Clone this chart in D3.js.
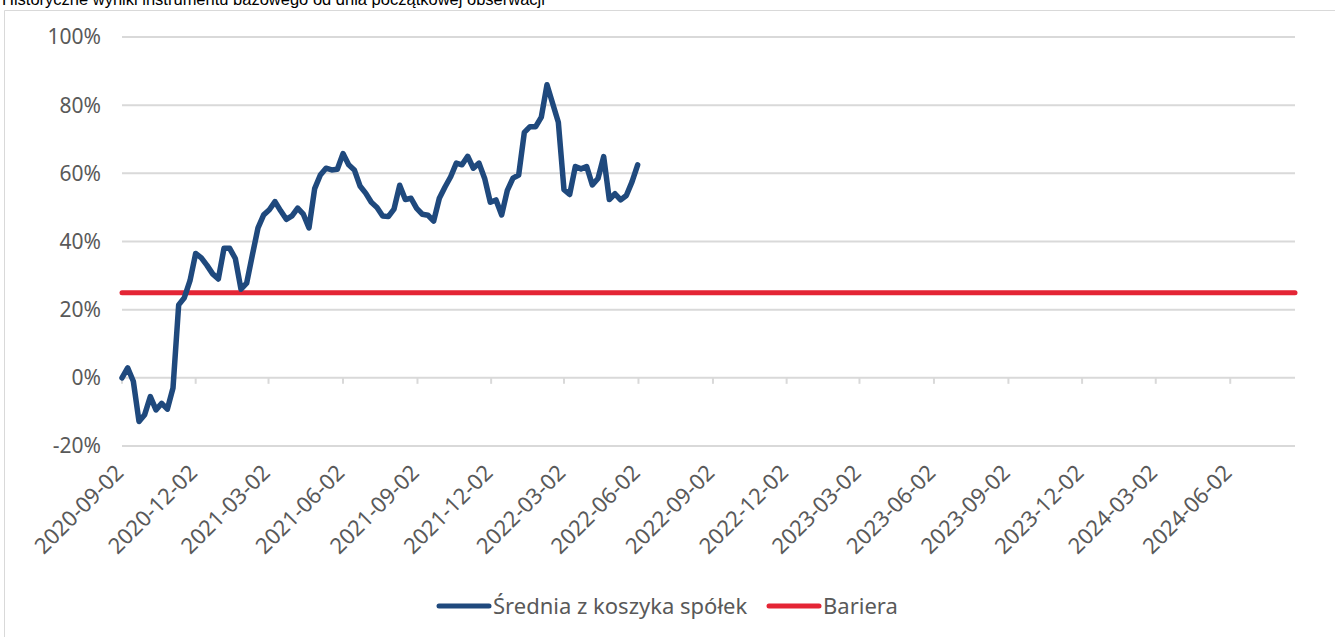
<!DOCTYPE html>
<html>
<head>
<meta charset="utf-8">
<script src="https://cdn.jsdelivr.net/npm/d3@7"></script>
<style>
  body { margin: 0; background: #fff; overflow: hidden; }
  svg { display: block; }
</style>
</head>
<body>
<div id="chart"></div>
<script>
// weekly observations of the basket average (in %)
const dates = [
  "2020-09-02","2020-09-09","2020-09-16","2020-09-23","2020-09-30","2020-10-07","2020-10-14","2020-10-21","2020-10-28",
  "2020-11-04","2020-11-11","2020-11-18","2020-11-25","2020-12-02","2020-12-09","2020-12-16","2020-12-23","2020-12-30",
  "2021-01-06","2021-01-13","2021-01-20","2021-01-27","2021-02-03","2021-02-10","2021-02-17","2021-02-24",
  "2021-03-03","2021-03-10","2021-03-17","2021-03-24","2021-03-31","2021-04-07","2021-04-14","2021-04-21","2021-04-28",
  "2021-05-05","2021-05-12","2021-05-19","2021-05-26","2021-06-02","2021-06-09","2021-06-16","2021-06-23","2021-06-30",
  "2021-07-07","2021-07-14","2021-07-21","2021-07-28","2021-08-04","2021-08-11","2021-08-18","2021-08-25",
  "2021-09-01","2021-09-08","2021-09-15","2021-09-22","2021-09-29","2021-10-06","2021-10-13","2021-10-20","2021-10-27",
  "2021-11-03","2021-11-10","2021-11-17","2021-11-24","2021-12-01","2021-12-08","2021-12-15","2021-12-22","2021-12-29",
  "2022-01-05","2022-01-12","2022-01-19","2022-01-26","2022-02-02","2022-02-09","2022-02-16","2022-02-23",
  "2022-03-02","2022-03-09","2022-03-16","2022-03-23","2022-03-30","2022-04-06","2022-04-13","2022-04-20","2022-04-27",
  "2022-05-04","2022-05-11","2022-05-18","2022-05-25","2022-06-01"
];
const basket = [
  0, 2.9, -1, -12.8, -10.8, -5.5, -9.4, -7.5, -9.2,
  -3, 21.4, 23.5, 28.5, 36.5, 35.2, 33, 30.5, 29,
  38, 38, 35, 26, 27.8, 36, 44, 47.8,
  49.3, 51.7, 49, 46.5, 47.5, 49.8, 48, 44, 55.5,
  59.5, 61.5, 61, 61.2, 65.8, 62.5, 61, 56.3, 54.2,
  51.5, 50, 47.5, 47.3, 49.5, 56.5, 52.3, 52.7,
  49.7, 48, 47.7, 46, 52.7, 56, 59, 63, 62.5,
  65, 61.5, 63, 58.5, 51.5, 52.2, 47.8, 55, 58.6,
  59.5, 72, 73.7, 73.7, 76.5, 86, 80.5, 75,
  55.2, 53.8, 62, 61.3, 62, 56.6, 58.5, 64.9, 52.3,
  54, 52.2, 53.5, 57.5, 62.5
];
const barrier = 25;
const xStart = "2020-09-02", xEnd = "2024-08-21";
const tickDates = [
  "2020-09-02","2020-12-02","2021-03-02","2021-06-02","2021-09-02","2021-12-02","2022-03-02","2022-06-02",
  "2022-09-02","2022-12-02","2023-03-02","2023-06-02","2023-09-02","2023-12-02","2024-03-02","2024-06-02"
];
const yTicks = [-20, 0, 20, 40, 60, 80, 100];
const seriesNames = ["Średnia z koszyka spółek", "Bariera"];
const title = "Historyczne wyniki instrumentu bazowego od dnia początkowej obserwacji";

const W = 1335, H = 637;
const blue = "#1f497d", red = "#e42535", grid = "#d9d9d9", txt = "#595959";
const parse = d3.timeParse("%Y-%m-%d");

const svg = d3.select("#chart").append("svg")
  .attr("width", W).attr("height", H);

// outer frame (only top and left edges are inside the window)
svg.append("path")
  .attr("d", "M4.5," + H + "V10.5H" + W)
  .attr("fill", "none").attr("stroke", grid).attr("stroke-width", 1);

// title sits partly above the window, as in the original screenshot
svg.append("text")
  .attr("x", 2).attr("y", 4.5)
  .attr("font-family", "Liberation Sans, Arial, sans-serif")
  .attr("font-size", 16.5).attr("fill", "#000")
  .text(title);

const x = d3.scaleTime()
  .domain([parse(xStart), parse(xEnd)])
  .range([122, 1295]);
const y = d3.scaleLinear()
  .domain([-20, 100])
  .range([446, 37]);

// horizontal gridlines
svg.append("g").selectAll("line")
  .data(yTicks).enter().append("line")
  .attr("x1", x.range()[0]).attr("x2", x.range()[1])
  .attr("y1", d => y(d)).attr("y2", d => y(d))
  .attr("stroke", grid).attr("stroke-width", 2);

// y labels
svg.append("g").selectAll("text")
  .data(yTicks).enter().append("text")
  .attr("x", 101).attr("y", d => y(d))
  .attr("dy", "0.35em")
  .attr("text-anchor", "end")
  .attr("font-family", "Noto Sans, sans-serif")
  .attr("font-size", 21).attr("fill", txt)
  .text(d => d + "%");

// category ticks on the 0% line
svg.append("g").selectAll("line")
  .data(tickDates).enter().append("line")
  .attr("x1", d => x(parse(d))).attr("x2", d => x(parse(d)))
  .attr("y1", y(0)).attr("y2", y(0) + 6)
  .attr("stroke", grid).attr("stroke-width", 2);

// rotated date labels below the plot
svg.append("g").selectAll("text")
  .data(tickDates).enter().append("text")
  .attr("transform", d => `translate(${x(parse(d)) + 3},${474}) rotate(-45)`)
  .attr("text-anchor", "end")
  .attr("font-family", "Noto Sans, sans-serif")
  .attr("font-size", 22).attr("fill", txt)
  .text(d => d);

// barrier line
svg.append("line")
  .attr("x1", x.range()[0]).attr("x2", x.range()[1])
  .attr("y1", y(barrier)).attr("y2", y(barrier))
  .attr("stroke", red).attr("stroke-width", 5)
  .attr("stroke-linecap", "round");

// basket average line
const pts = dates.map((d, i) => ({ date: parse(d), value: basket[i] }));
svg.append("path")
  .datum(pts)
  .attr("fill", "none")
  .attr("stroke", blue).attr("stroke-width", 5.5)
  .attr("stroke-linejoin", "round").attr("stroke-linecap", "round")
  .attr("d", d3.line().x(d => x(d.date)).y(d => y(d.value)));

// legend
const legend = [
  { name: seriesNames[0], color: blue, x: 437 },
  { name: seriesNames[1], color: red, x: 767 }
];
const lg = svg.append("g").selectAll("g")
  .data(legend).enter().append("g")
  .attr("transform", d => `translate(${d.x},606)`);
lg.append("line")
  .attr("x1", 2).attr("x2", 52)
  .attr("stroke", d => d.color).attr("stroke-width", 5)
  .attr("stroke-linecap", "round");
lg.append("text")
  .attr("x", 56).attr("dy", "0.35em")
  .attr("font-family", "Noto Sans, sans-serif")
  .attr("font-size", 22).attr("fill", txt)
  .text(d => d.name);
</script>
</body>
</html>
